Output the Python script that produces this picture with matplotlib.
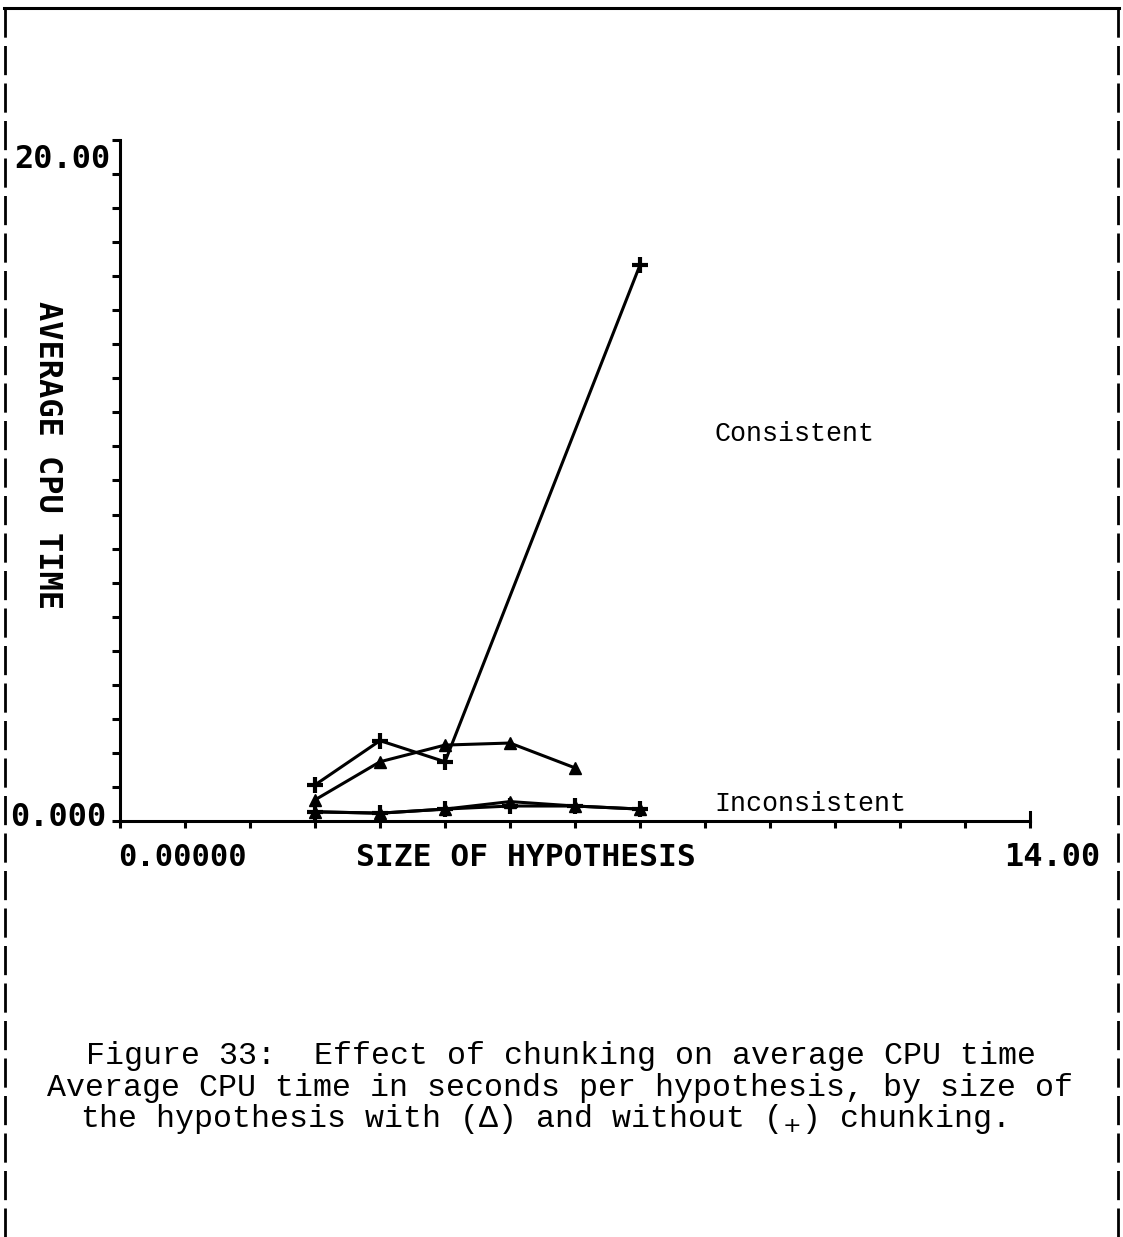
import matplotlib
matplotlib.use("Agg")
import matplotlib.pyplot as plt
from matplotlib.lines import Line2D

# ---------------- data ----------------
cons_plus_x = [3, 4, 5, 8]
cons_plus_y = [1.06, 2.36, 1.74, 16.33]

cons_tri_x = [3, 4, 5, 6, 7]
cons_tri_y = [0.62, 1.74, 2.23, 2.29, 1.56]

incons_plus_x = [3, 4, 5, 6, 7, 8]
incons_plus_y = [0.27, 0.23, 0.35, 0.44, 0.44, 0.35]

incons_tri_x = [3, 4, 5, 6, 7, 8]
incons_tri_y = [0.27, 0.23, 0.35, 0.57, 0.44, 0.35]

x_min, x_max = 0, 14
y_min, y_max = 0, 20
x_ticks = list(range(0, 15))
y_ticks = list(range(0, 21))

x_label = "SIZE OF HYPOTHESIS"
y_label = "AVERAGE CPU TIME"
x_lo_label, x_hi_label = "0.00000", "14.00"
y_lo_label, y_hi_label = "0.000", "20.00"
caption = [
    "Figure 33:  Effect of chunking on average CPU time",
    "Average CPU time in seconds per hypothesis, by size of",
    "the hypothesis with (\u0394) and without ($_{+}$) chunking.",
]

# ---------------- figure ----------------
W, H = 1123, 1237
fig = plt.figure(figsize=(W / 100, H / 100), dpi=100)
fig.patch.set_facecolor("white")

def fx(px):
    return px / W

def fy(py):
    return 1 - py / H

ax = fig.add_axes([fx(120), fy(821), fx(1030) - fx(120), fy(140) - fy(821)])
ax.set_xlim(x_min, x_max)
ax.set_ylim(y_min, y_max)
ax.set_facecolor("none")
for s in ["top", "right"]:
    ax.spines[s].set_visible(False)
for s in ["left", "bottom"]:
    ax.spines[s].set_linewidth(2.2)
    ax.spines[s].set_color("black")
ax.set_xticks(x_ticks)
ax.set_yticks(y_ticks)
ax.set_xticklabels([])
ax.set_yticklabels([])
ax.tick_params(axis="x", direction="out", length=5, width=2.2, color="black")
ax.tick_params(axis="y", direction="out", length=6, width=2.2, color="black")

lw = 2.2
ax.plot(cons_plus_x, cons_plus_y, color="black", lw=lw, marker="+", ms=11, mew=3.0, clip_on=False)
ax.plot(cons_tri_x, cons_tri_y, color="black", lw=lw, marker="^", ms=8, clip_on=False)
ax.plot(incons_plus_x, incons_plus_y, color="black", lw=lw, marker="+", ms=11, mew=3.0, clip_on=False)
ax.plot(incons_tri_x, incons_tri_y, color="black", lw=lw, marker="^", ms=8, clip_on=False)

# small upward tick at right end of the x axis
ax.plot([x_max, x_max], [0, 0.25], color="black", lw=2.2, clip_on=False)

plot_font = dict(family="DejaVu Sans Mono", fontweight="bold", color="black")
fig.text(fx(110), fy(160), y_hi_label, ha="right", va="center", fontsize=23, **plot_font)
fig.text(fx(106), fy(818), y_lo_label, ha="right", va="center", fontsize=23, **plot_font)
fig.text(fx(118), fy(858), x_lo_label, ha="left", va="center", fontsize=22, **plot_font)
fig.text(fx(1100), fy(858), x_hi_label, ha="right", va="center", fontsize=23, **plot_font)
fig.text(fx(526), fy(858), x_label, ha="center", va="center", fontsize=22.5, **plot_font)
fig.text(fx(47), fy(455), y_label, ha="center", va="center", rotation=-90, fontsize=23, **plot_font)

note_font = dict(family="Liberation Mono", color="black", fontsize=19.2)
fig.text(fx(714), fy(434), "Consistent", ha="left", va="center", **note_font)
fig.text(fx(714), fy(804), "Inconsistent", ha="left", va="center", **note_font)

cap_font = dict(family="Liberation Mono", color="black", fontsize=22.8)
fig.text(fx(86), fy(1064), caption[0], ha="left", va="baseline", **cap_font)
fig.text(fx(47), fy(1096), caption[1], ha="left", va="baseline", **cap_font)
fig.text(fx(80), fy(1127), caption[2], ha="left", va="baseline", **cap_font)

# page frame: solid top, dashed sides
fig.add_artist(Line2D([fx(4), fx(1119)], [fy(8), fy(8)], color="black", lw=2.2))
for xpx in (5, 1118):
    fig.add_artist(Line2D([fx(xpx), fx(xpx)], [fy(8), fy(1237)], color="black",
                          lw=2.0, linestyle=(0, (10.5, 3.0))))

fig.savefig("out.png", dpi=100, facecolor="white")
